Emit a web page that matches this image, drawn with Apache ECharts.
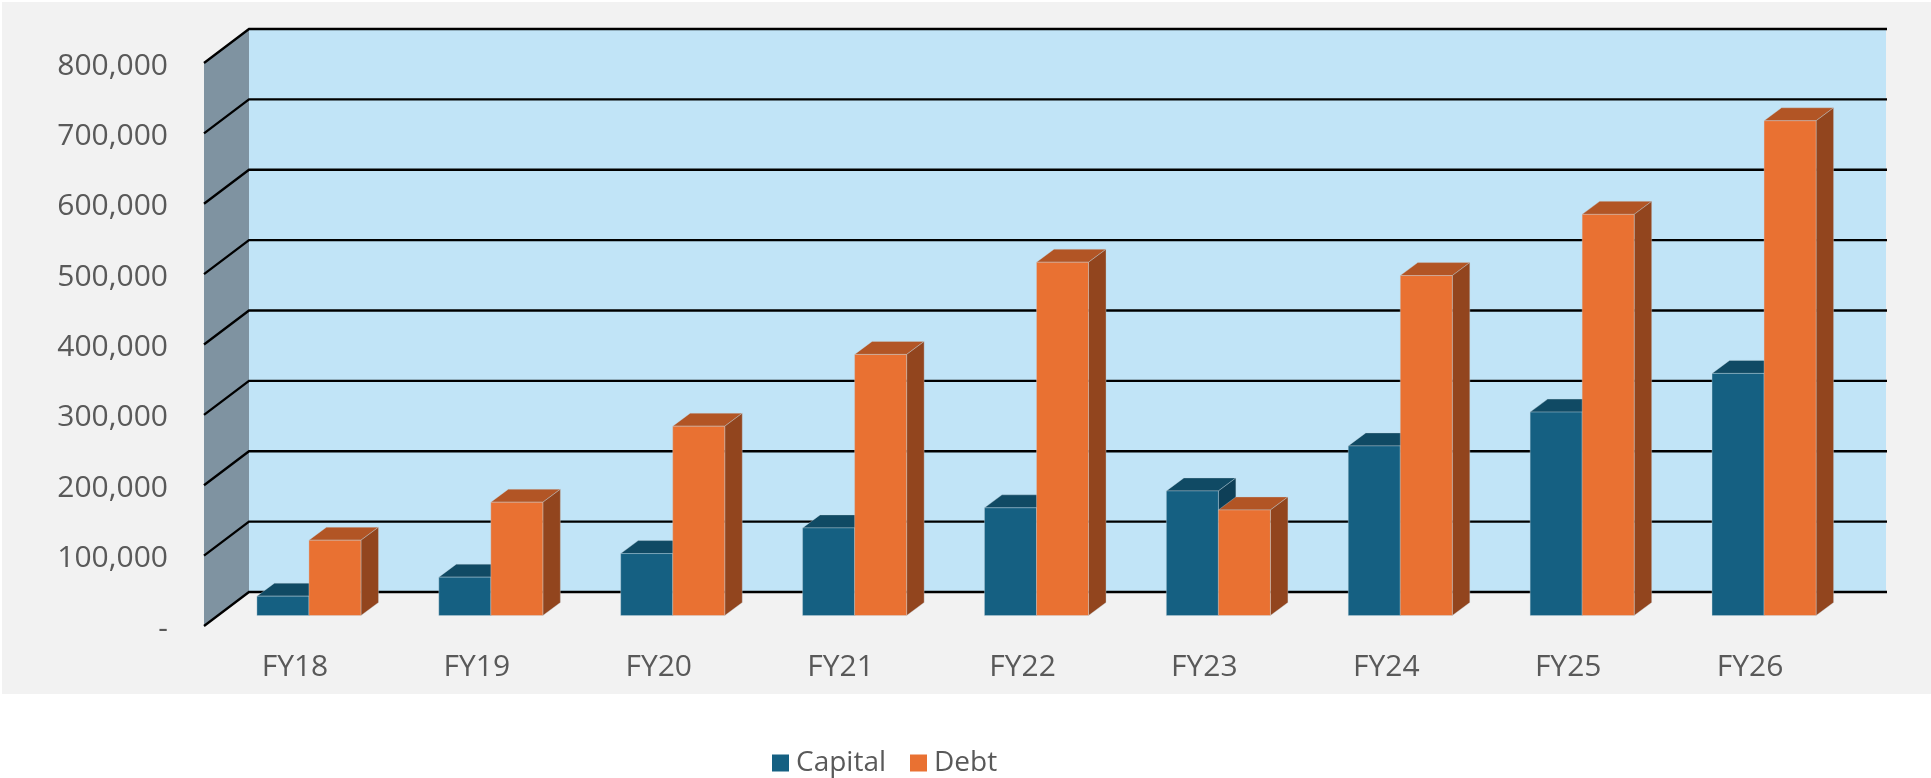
<!DOCTYPE html>
<html><head><meta charset="utf-8">
<style>html,body{margin:0;padding:0;background:#fff;overflow:hidden}#c{width:1931px;height:778px}</style>
<script src="https://cdn.jsdelivr.net/npm/echarts@6/dist/echarts.min.js"></script>
</head><body><div id="c"></div>
<script>
const categories = ['FY18','FY19','FY20','FY21','FY22','FY23','FY24','FY25','FY26'];
const capital = [27500,54500,88000,124500,153000,177000,241000,289000,344000];
const debt = [107000,161000,269000,371000,502000,150000,483000,570000,703000];
const yTicks = [0,100000,200000,300000,400000,500000,600000,700000,800000];

// oblique projection of the chart's depth (pixels)
const DEPTH_X = 45, DEPTH_Y = 34;      // front plane to back wall
const BAR_X = 14, BAR_Y = 10.5;        // front plane to bar faces
const BAR_DX = 17.5, BAR_DY = 13;      // bar depth
const BAR_FRACTION = 0.286;            // one bar's width / category width

const edge = 'rgba(200,215,225,0.45)';
function prism(x, y, w, h, front, top, side) {
  const st = c => ({fill: c, stroke: edge, lineWidth: 0.8});
  return [
    {type:'polygon', shape:{points:[[x,y],[x+BAR_DX,y-BAR_DY],[x+w+BAR_DX,y-BAR_DY],[x+w,y]]}, style:st(top)},
    {type:'polygon', shape:{points:[[x+w,y],[x+w+BAR_DX,y-BAR_DY],[x+w+BAR_DX,y+h-BAR_DY],[x+w,y+h]]}, style:st(side)},
    {type:'rect', shape:{x:x,y:y,width:w,height:h}, style:st(front)}
  ];
}
function barRenderer(idx, front, top, side) {
  return function(params, api) {
    const p = api.coord([api.value(0), api.value(1)]);
    const base = api.coord([api.value(0), 0]);
    const w = api.size([1,0])[0] * BAR_FRACTION;
    const x = base[0] + BAR_X + (idx === 0 ? -w : 0);
    const y = p[1] - BAR_Y;
    return {type:'group', children: prism(x, y, w, base[1]-p[1], front, top, side)};
  };
}
function wallRenderer(params, api) {
  const cs = params.coordSys;
  const l = cs.x, r = cs.x + cs.width, t = cs.y, b = cs.y + cs.height;
  return {type:'group', children:[
    {type:'rect', shape:{x:l+DEPTH_X, y:t-DEPTH_Y, width:r-l, height:b-t}, style:{fill:'#c1e4f7'}},
    {type:'polygon', shape:{points:[[l,t],[l+DEPTH_X,t-DEPTH_Y],[l+DEPTH_X,b-DEPTH_Y],[l,b]]}, style:{fill:'#7f93a1'}}
  ]};
}
function gridRenderer(params, api) {
  const cs = params.coordSys;
  const y = api.coord([0, api.value(1)])[1];
  const l = cs.x, r = cs.x + cs.width;
  return {type:'polyline', shape:{points:[[l,y],[l+DEPTH_X,y-DEPTH_Y],[r+DEPTH_X+1,y-DEPTH_Y]]},
    style:{fill:null, stroke:'#000', lineWidth:2.3}};
}
const labelFont = {color:'#595959', fontFamily:'Open Sans', fontSize:30};
const chart = echarts.init(document.getElementById('c'), null, {renderer:'canvas'});
chart.setOption({
  animation:false,
  backgroundColor:'#ffffff',
  graphic:[{type:'rect', z:-10, silent:true, shape:{x:2,y:2,width:1929,height:692}, style:{fill:'#f2f2f2'}}],
  grid:{left:204, right:90, top:63, bottom:152, containLabel:false},
  legend:{
    data:['Capital','Debt'], left:772, top:749, padding:0, icon:'rect', itemWidth:17, itemHeight:17, itemGap:24,
    textStyle:{color:'#595959', fontFamily:'Open Sans', fontSize:28, padding:[0,0,0,2]}
  },
  xAxis:{type:'category', data:categories, axisLine:{show:false}, axisTick:{show:false},
    splitLine:{show:false}, axisLabel:Object.assign({margin:26}, labelFont)},
  yAxis:{type:'value', min:0, max:800000, interval:100000, axisLine:{show:false}, axisTick:{show:false},
    splitLine:{show:false},
    axisLabel:Object.assign({margin:36,
      formatter:v => '{v|' + (v === 0 ? '-' : v.toLocaleString('en-US')) + '}',
      rich:{v:Object.assign({padding:[6,0,0,0]}, labelFont)}}, labelFont)},
  series:[
    {type:'custom', name:'wall', silent:true, data:[[0,0]], encode:{x:0,y:1}, renderItem:wallRenderer, z:1},
    {type:'custom', name:'gridlines', silent:true, data:yTicks.map(v=>[0,v]), encode:{x:0,y:1}, renderItem:gridRenderer, z:2},
    {type:'custom', name:'Capital', data:capital.map((v,i)=>[i,v]), encode:{x:0,y:1},
      itemStyle:{color:'#156082'}, renderItem:barRenderer(0,'#156082','#104a64','#0e3f57'), z:3},
    {type:'custom', name:'Debt', data:debt.map((v,i)=>[i,v]), encode:{x:0,y:1},
      itemStyle:{color:'#e97132'}, renderItem:barRenderer(1,'#e97132','#b25525','#92451e'), z:4}
  ]
});
</script></body></html>
